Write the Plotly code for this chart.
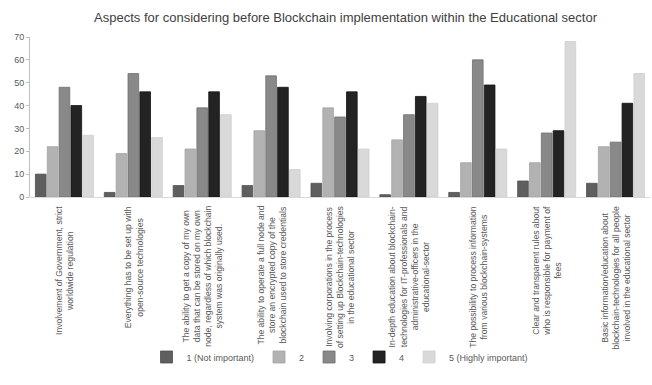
import plotly.graph_objects as go

categories = [
    "Involvement of Government, strict<br>worldwide regulation",
    "Everything has to be set up with<br>open-source technologies",
    "The ability to get a copy of my own<br>data that can be stored on my own<br>node, regardless of which blockchain<br>system was originally used.",
    "The ability to operate a full node and<br>store an encrypted copy of the<br>blockchain used to store credentials",
    "Involving corporations in the process<br>of setting up Blockchain-technologies<br>in the educational sector",
    "In-depth education about blockchain-<br>technologies for IT-professionals and<br>administrative-officers in the<br>educational-sector",
    "The possibility to process information<br>from various blockchain-systems",
    "Clear and transparent rules about<br>who is responsible for payment of<br>fees",
    "Basic information/education about<br>blockchain-technologies for all people<br>involved in the educational sector",
]
series_names = ["1 (Not important)", "2", "3", "4", "5 (Highly important)"]
v1 = [10, 2, 5, 5, 6, 1, 2, 7, 6]
v2 = [22, 19, 21, 29, 39, 25, 15, 15, 22]
v3 = [48, 54, 39, 53, 35, 36, 60, 28, 24]
v4 = [40, 46, 46, 48, 46, 44, 49, 29, 41]
v5 = [27, 26, 36, 12, 21, 41, 21, 68, 54]
values = [v1, v2, v3, v4, v5]
colors = ["#5f5f5f", "#b2b2b2", "#898989", "#232323", "#d9d9d9"]
line_colors = ["#4f4f4f", "#a5a5a5", "#6f6f6f", "#111111", "#cfcfcf"]

keys = [f"c{i}" for i in range(len(categories))]

font_family = "Liberation Sans, Arial"
fig = go.Figure()
for name, vals, c, lc in zip(series_names, values, colors, line_colors):
    fig.add_trace(go.Bar(x=keys, y=vals, name=name,
                         marker=dict(color=c, line=dict(color=lc, width=0.8))))

for k, lab in zip(keys, categories):
    fig.add_annotation(x=k, y=0, xref="x", yref="paper", text=lab,
                       textangle=-90, xanchor="center", yanchor="top",
                       yshift=-7, showarrow=False, align="center",
                       font=dict(family=font_family, size=8.6, color="#595959"))

fig.update_layout(
    width=652, height=385,
    margin=dict(l=30, r=2, t=37, b=188),
    paper_bgcolor="white", plot_bgcolor="white",
    title=dict(text="Aspects for considering before Blockchain implementation within the Educational sector",
               x=0.53, xanchor="center", y=0.955, yanchor="middle",
               font=dict(family=font_family, size=13, color="#404040")),
    barmode="group", bargap=0.14, bargroupgap=0.1,
    legend=dict(orientation="h", x=0.5, xanchor="center", y=-1.0, yanchor="middle",
                font=dict(family=font_family, size=9, color="#595959"),
                itemwidth=30, tracegroupgap=0, bgcolor="rgba(255,255,255,0)"),
    font=dict(family=font_family),
)
fig.update_xaxes(showticklabels=False, showline=True, linecolor="#d9d9d9",
                 linewidth=1, ticks="", showgrid=False)
fig.update_yaxes(range=[0, 70], dtick=10, showline=True, linecolor="#bfbfbf",
                 linewidth=1, ticks="outside", ticklen=3, tickcolor="#bfbfbf",
                 showgrid=False, zeroline=False,
                 tickfont=dict(family=font_family, size=9, color="#595959"))

fig.write_html("out.html", config={"displayModeBar": False},
               post_script="document.body.style.margin='0px';")
